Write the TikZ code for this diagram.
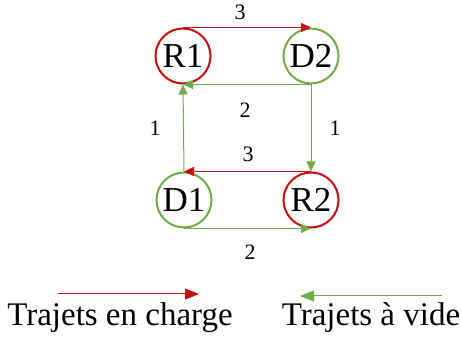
\documentclass[tikz,border=0pt]{standalone}
\usepackage{fontspec}
\setmainfont{Liberation Serif}
\usetikzlibrary{arrows.meta}
\definecolor{cred}{RGB}{196,16,16}
\definecolor{cgreen}{RGB}{112,173,71}
\begin{document}
\begin{tikzpicture}[x=1pt,y=1pt,
  place/.style={circle,draw,line width=2pt,inner sep=0pt,minimum size=55pt,font=\fontsize{35}{36}\selectfont},
  redplace/.style={place,draw=cred},
  greenplace/.style={place,draw=cgreen},
  loaded/.style={draw=cred,line width=1pt,-{Triangle[length=10pt,width=9pt]},color=cred},
  empty/.style={draw=cgreen,line width=1pt,-{Triangle[length=10pt,width=9pt]},color=cgreen},
  bigtip/.style={-{Triangle[length=14pt,width=11pt]}},
  num/.style={font=\fontsize{22}{24}\selectfont},
  leg/.style={font=\fontsize{33}{35}\selectfont}]
\useasboundingbox (0,0) rectangle (461,343);
\node[redplace] (R1) at (183,287) {R1};
\node[greenplace] (D2) at (311,287) {D2};
\node[greenplace] (D1) at (184,143) {D1};
\node[redplace] (R2) at (311,143) {R2};
\draw[loaded] (R1.north) -- (D2.north);
\draw[empty] (D2.south) -- (R1.south);
\draw[empty] (D1.north) -- (R1.south);
\draw[empty] (D2.south) -- (R2.north);
\draw[loaded] (R2.north) -- (D1.north);
\draw[empty] (D1.south) -- (R2.south);
\node[num] (n1) at (240,331) {3};
\node[num] (n2) at (245,233) {2};
\node[num] (n3) at (155,215) {1};
\node[num] (n4) at (335,215) {1};
\node[num] (n5) at (248,189) {3};
\node[num] (n6) at (250,91) {2};
\coordinate (la) at (58,49);
\coordinate (lb) at (199,49);
\coordinate (lc) at (442,47);
\coordinate (ld) at (300,47);
\draw[loaded,bigtip] (la) -- (lb);
\draw[empty,bigtip] (lc) -- (ld);
\node[leg] (t1) at (120,25) {Trajets en charge};
\node[leg] (t2) at (371,25) {Trajets à vide};
\end{tikzpicture}
\end{document}
